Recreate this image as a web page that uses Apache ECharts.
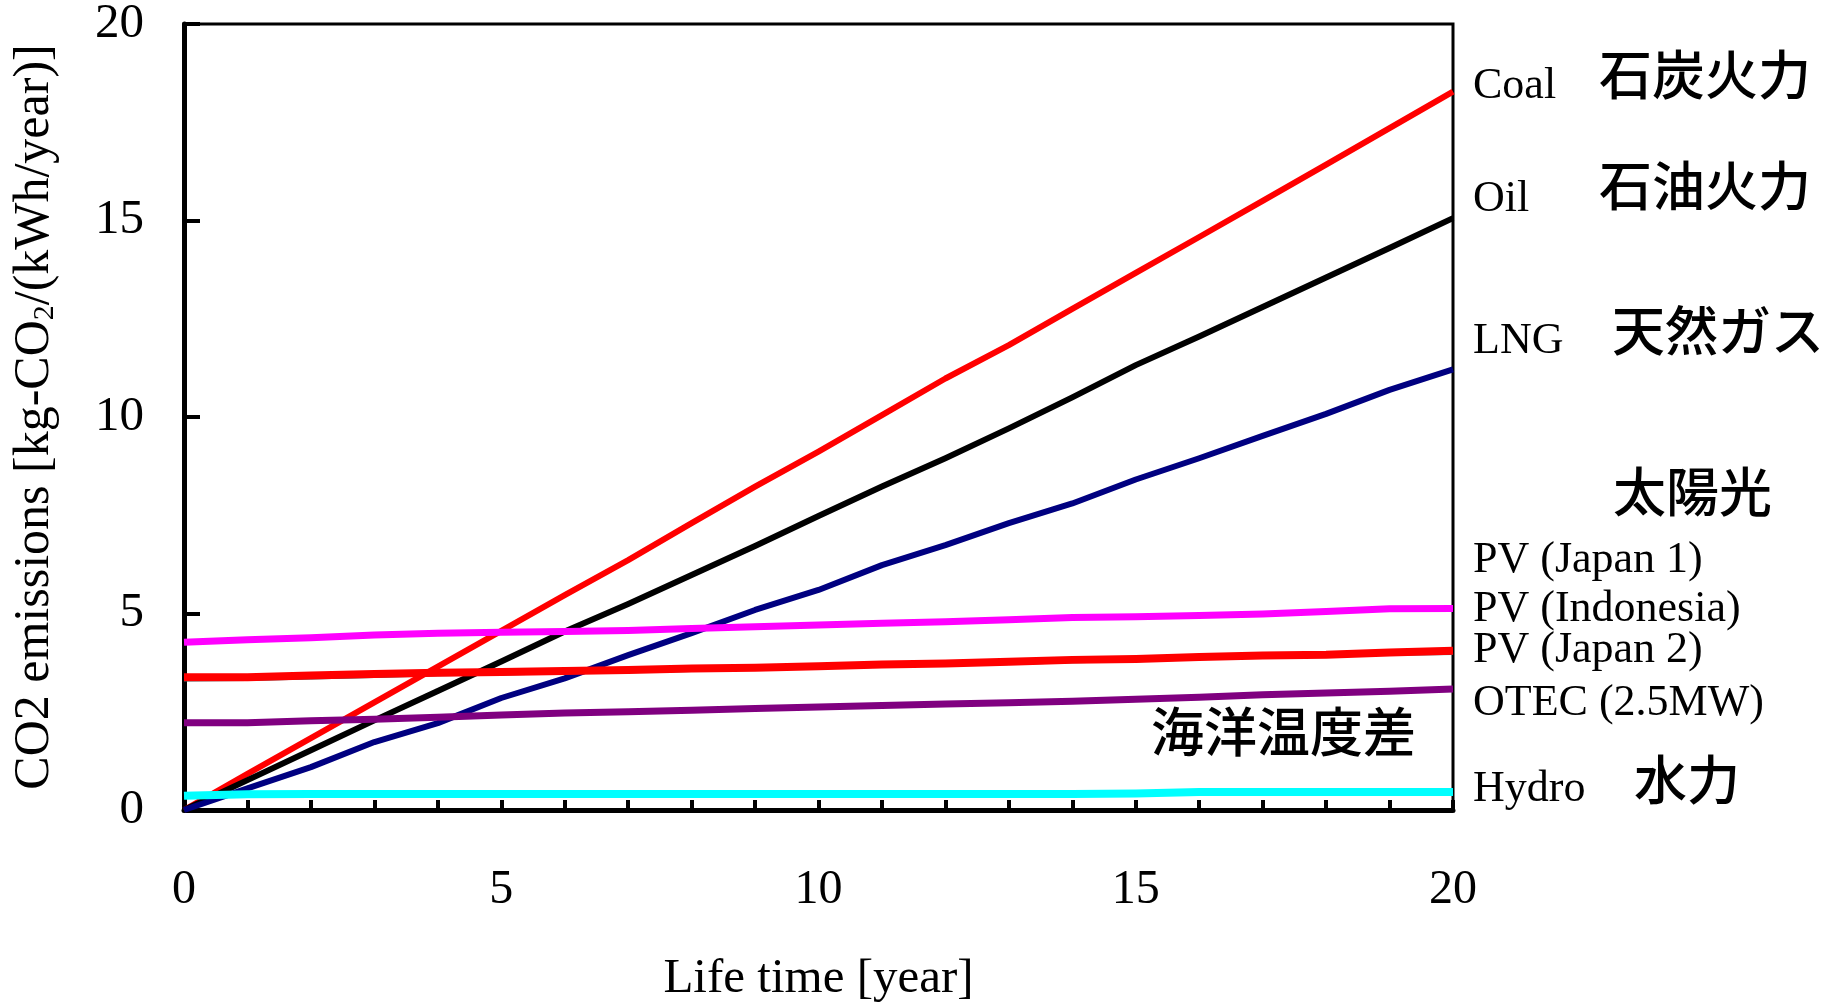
<!DOCTYPE html>
<html>
<head>
<meta charset="utf-8">
<script src="https://cdn.jsdelivr.net/npm/echarts@6/dist/echarts.min.js"></script>
<style>
html,body{margin:0;padding:0;background:#fff;}
#chart{width:1823px;height:1002px;}
</style>
</head>
<body>
<div id="chart"></div>
<script>
// ---- data ----
const years = [0,1,2,3,4,5,6,7,8,9,10,11,12,13,14,15,16,17,18,19,20];
const coal = [0,0.92,1.83,2.74,3.65,4.56,5.47,6.36,7.30,8.23,9.12,10.05,10.98,11.83,12.75,13.67,14.58,15.50,16.42,17.35,18.28];
const oil = [0,0.76,1.52,2.28,3.03,3.78,4.54,5.24,5.98,6.72,7.48,8.23,8.95,9.71,10.50,11.32,12.05,12.80,13.55,14.30,15.06];
const lng = [0,0.55,1.09,1.73,2.21,2.85,3.35,3.94,4.50,5.09,5.60,6.23,6.74,7.30,7.80,8.41,8.95,9.52,10.08,10.69,11.21];
const otec = [2.22,2.22,2.27,2.31,2.36,2.42,2.47,2.50,2.54,2.58,2.62,2.66,2.70,2.73,2.77,2.82,2.87,2.93,2.98,3.02,3.08];
const pvTeal = [3.31,3.32,3.36,3.40,3.44,3.46,3.49,3.52,3.55,3.58,3.62,3.66,3.69,3.73,3.77,3.80,3.85,3.89,3.92,3.96,3.98];
const pvRed = [3.38,3.38,3.42,3.46,3.49,3.51,3.54,3.56,3.60,3.62,3.66,3.70,3.73,3.77,3.82,3.84,3.89,3.93,3.95,4.01,4.05];
const pvMagenta = [4.27,4.33,4.38,4.45,4.50,4.52,4.54,4.57,4.62,4.66,4.71,4.75,4.79,4.84,4.90,4.92,4.95,4.99,5.05,5.12,5.13];
const hydro = [0.36,0.40,0.41,0.41,0.41,0.41,0.41,0.41,0.41,0.41,0.41,0.41,0.41,0.41,0.41,0.42,0.46,0.46,0.46,0.46,0.46];

const xTickLabels = [0,5,10,15,20];
const yTickLabels = [0,5,10,15,20];
const xName = 'Life time [year]';
const yNameParts = ['CO2 emissions [kg-CO', '2', '/(kWh/year)]'];
const latinLabels = ['Coal','Oil','LNG','PV (Japan 1)','PV (Indonesia)','PV (Japan 2)','OTEC (2.5MW)','Hydro'];
const jpLabels = ['石炭火力','石油火力','天然ガス','太陽光','水力','海洋温度差'];

// ---- layout (pixel positions of annotation texts) ----
const latinPos = [[1473,86],[1473,199],[1473,341],[1473,560],[1473,609],[1473,650],[1473,703],[1473,789]];
const jpPos = [[1599,76],[1599,187],[1612,332],[1613,493],[1634,781],[1151,733]];

const serif = '"Liberation Serif","Times New Roman",serif';
const cjk = '"Noto Sans CJK JP","Noto Sans CJK SC",sans-serif';

function pairs(arr){ return years.map((x,i)=>[x,arr[i]]); }

function lineSeries(name, arr, color, width){
  return {
    name: name, type: 'line', data: pairs(arr),
    showSymbol: false, symbol: 'none', smooth: false,
    lineStyle: {color: color, width: width, cap: 'butt', join: 'round'},
    silent: true, animation: false
  };
}

const graphics = [];
latinLabels.forEach((t,i)=>{
  graphics.push({type:'text', left: latinPos[i][0], top: latinPos[i][1]-22, silent:true,
    style:{text:t, font:'44px '+serif, fill:'#000', textVerticalAlign:'top'}});
});
jpLabels.forEach((t,i)=>{
  graphics.push({type:'text', left: jpPos[i][0], top: jpPos[i][1]-28, silent:true,
    style:{text:t, font:'500 53px '+cjk, fill:'#000', textVerticalAlign:'top'}});
});

const chart = echarts.init(document.getElementById('chart'), null, {renderer:'canvas'});
chart.setOption({
  backgroundColor: '#fff',
  animation: false,
  grid: {left:184, right:370, top:24, bottom:192, containLabel:false, outerBoundsMode:'none',
    show:true, borderColor:'#000', borderWidth:3, backgroundColor:'transparent'},
  xAxis: {
    type:'value', min:0, max:20, interval:1,
    name: xName, nameLocation:'middle', nameGap:145,
    nameTextStyle:{fontFamily:serif, fontSize:49, color:'#000'},
    axisLine:{show:true, onZero:false, lineStyle:{color:'#000', width:5}},
    axisTick:{show:true, inside:true, length:10, lineStyle:{color:'#000', width:4}},
    axisLabel:{margin:56, fontFamily:serif, fontSize:48, color:'#000',
      formatter: v => xTickLabels.indexOf(v) >= 0 ? String(v) : ''},
    splitLine:{show:false}
  },
  yAxis: {
    type:'value', min:0, max:20, interval:5,
    name: '{a|'+yNameParts[0]+'}{s|'+yNameParts[1]+'}{a|'+yNameParts[2]+'}',
    nameLocation:'middle', nameGap:124, nameRotate:90,
    nameTextStyle:{color:'#000', rich:{
      a:{fontFamily:serif, fontSize:50, color:'#000'},
      s:{fontFamily:serif, fontSize:30, color:'#000', padding:[14,0,0,0], verticalAlign:'bottom'}
    }},
    axisLine:{show:true, onZero:false, lineStyle:{color:'#000', width:5}},
    axisTick:{show:true, inside:true, length:16, lineStyle:{color:'#000', width:4}},
    axisLabel:{margin:40, fontFamily:serif, fontSize:49, color:'#000',
      formatter: v => yTickLabels.indexOf(v) >= 0 ? String(v) : ''},
    splitLine:{show:false}
  },
  series: [
    lineSeries('Coal', coal, '#FF0000', 6),
    lineSeries('Oil', oil, '#000000', 6),
    lineSeries('LNG', lng, '#000080', 6),
    lineSeries('OTEC (2.5MW)', otec, '#800080', 7),
    lineSeries('PV (Japan 1)', pvTeal, '#008080', 3),
    lineSeries('PV (Japan 2)', pvRed, '#FF0000', 8),
    lineSeries('PV (Indonesia)', pvMagenta, '#FF00FF', 7),
    lineSeries('Hydro', hydro, '#00FFFF', 8)
  ],
  graphic: graphics
});
</script>
</body>
</html>
